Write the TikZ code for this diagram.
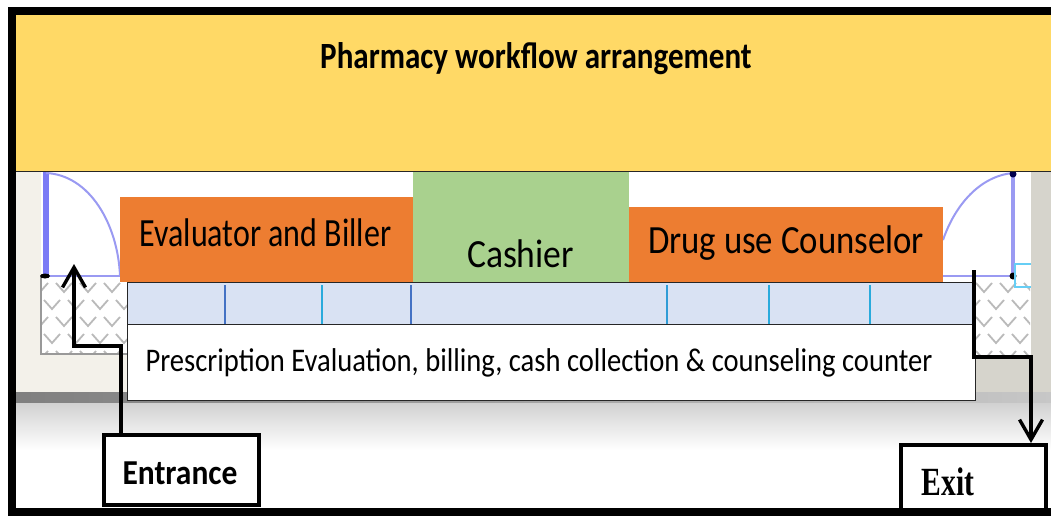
\documentclass[tikz,border=0pt]{standalone}
\usepackage{fontspec}
\usepackage{graphicx}
\setmainfont{Carlito}
\newfontfamily\exitfont{Liberation Serif}
\usetikzlibrary{arrows.meta}
\definecolor{bandyellow}{HTML}{FFD966}
\definecolor{deskorange}{HTML}{ED7D31}
\definecolor{deskgreen}{HTML}{A9D18E}
\definecolor{deskblue}{HTML}{D9E2F3}
\definecolor{tickblue}{HTML}{4472C4}
\definecolor{doorblue}{HTML}{9A9AF2}
\definecolor{wallbeige}{HTML}{F3F1EA}
\definecolor{wallgrey}{HTML}{D6D4CC}
\tikzset{
    desk/.style={rectangle, draw=none, fill=deskorange, anchor=north west, inner sep=0pt, text=black},
    counter/.style={rectangle, draw=black!85, line width=1.2pt, anchor=north west, inner sep=0pt},
    sign/.style={rectangle, draw=black, line width=3.6pt, fill=white, anchor=north west, inner sep=0pt},
    walk/.style={draw=black, line width=3.4pt, -{Straight Barb[length=20pt,width=23pt,line width=3.4pt]}},
    door/.style={draw=doorblue, line width=2pt},
    hatch/.style={draw=black!27, line width=1.8pt}
}
\begin{document}
\begin{tikzpicture}[x=1pt, y=-1pt]
    \useasboundingbox (0, 0) rectangle (1051, 515);
    \fill[white] (0, 0) rectangle (1051, 515);
    \fill[wallbeige] (16, 171) rectangle (127, 392);
    \fill[white] (41, 171) rectangle (127, 277);
    \fill[wallgrey] (975, 355) rectangle (1051, 392);
    \fill[wallgrey] (1031, 171) rectangle (1051, 392);
    \shade[left color=black!50, right color=black!22] (16, 392) rectangle (1051, 403);
    \shade[top color=black!18, bottom color=white] (16, 403) rectangle (1051, 450);
    \fill[white] (41, 277) rectangle (127, 354);
    \fill[white] (975, 277) rectangle (1030, 355);
    \begin{scope}
        \clip (41, 277) rectangle (127, 354);
        \foreach \x in {32, 56, 80, 104}
            \foreach \y in {283, 317, 351}
                \draw[hatch] (\x, \y) -- +(8, 9) -- +(16, 0)
                    (\x + 12, \y + 17) -- +(8, 9) -- +(16, 0);
    \end{scope}
    \begin{scope}
        \clip (975, 277) rectangle (1030, 355);
        \foreach \x in {976, 1000, 1024}
            \foreach \y in {283, 317, 351}
                \draw[hatch] (\x, \y) -- +(8, 9) -- +(16, 0)
                    (\x - 12, \y + 17) -- +(8, 9) -- +(16, 0);
    \end{scope}
    \draw[black!40, line width=1.5pt] (41, 277) -- (41, 354) -- (127, 354);
    \draw[doorblue!80!blue, line width=6pt] (46, 172) -- (46, 276);
    \draw[door] (46, 173) .. controls (90, 175) and (118, 225) .. (120, 276);
    \draw[door, line width=2.6pt] (46, 276) -- (120, 276);
    \draw[door, line width=4.5pt] (1013, 172) -- (1013, 276);
    \draw[door] (1013, 173) .. controls (980, 176) and (955, 205) .. (943, 240);
    \draw[door, line width=2.6pt] (943, 276) -- (1013, 276);
    \fill[black] (45, 276) ellipse (5 and 2.5);
    \fill[black] (1013, 276) circle (3.5);
    \fill[black!70!blue] (1013, 174) circle (3.5);
    \draw[cyan!60, line width=1.2pt] (1031, 264) -- (1015, 264) -- (1015, 287) -- (1031, 287);
    \node[rectangle, fill=bandyellow, draw=none, anchor=north west, inner sep=0pt,
        minimum width=1035pt, minimum height=157pt] (band) at (16, 14) {};
    \draw[black!85, line width=1.2pt] (band.south west) -- (band.south east);
    \node (title) at (536, 59) {\fontsize{37}{37}\selectfont\bfseries\scalebox{0.84}[1]{Pharmacy workflow arrangement}};
    \node[desk, minimum width=293pt, minimum height=85pt] (evaluator) at (120, 197) {};
    \node at (265.5, 233) {\fontsize{40}{40}\selectfont\scalebox{0.80}[1]{Evaluator and Biller}};
    \node[desk, fill=deskgreen, minimum width=216pt, minimum height=110pt] (cashier) at (413, 172) {};
    \node at (520.5, 254) {\fontsize{40}{40}\selectfont\scalebox{0.89}[1]{Cashier}};
    \node[desk, minimum width=314pt, minimum height=75pt] (counselor) at (629, 207) {};
    \node at (786, 243) {\fontsize{40}{40}\selectfont\scalebox{0.87}[1]{Drug use Counselor}};
    \node[counter, fill=deskblue, minimum width=848pt, minimum height=42pt] (slots) at (127, 282) {};
    \foreach \x/\tone in {225/tickblue, 322/tickblue!60!cyan, 411/tickblue, 667/tickblue!70!cyan, 769/tickblue!60!cyan, 870/tickblue!60!cyan}
        \draw[\tone, line width=2.6pt] (\x, 285) -- (\x, 324);
    \node[counter, fill=white, minimum width=848pt, minimum height=76pt] (counter) at (127, 324) {};
    \node at (539, 363) {\fontsize{33}{33}\selectfont\scalebox{0.866}[1]{Prescription Evaluation, billing, cash collection \& counseling counter}};
    \node[sign, minimum width=155pt, minimum height=70pt] (entrance) at (102, 433) {};
    \node at (180, 473) {\fontsize{35}{35}\selectfont\bfseries\scalebox{0.90}[1]{Entrance}};
    \node[sign, minimum width=145pt, minimum height=70pt] (exit) at (899, 443) {};
    \node at (948, 482) {\exitfont\fontsize{40}{40}\selectfont\bfseries\scalebox{0.74}[1]{Exit}};
    \coordinate (enterend) at (74, 264);
    \coordinate (exitstart) at (974, 270);
    \draw[walk] (121, 434) -- (121, 346) -- (74, 346) -- (enterend);
    \draw[walk] (exitstart) -- (974, 357) -- (1031, 357) -- (1031, 443);
    \draw[black, line width=8pt] (1051, 10.5) -- (12, 10.5) -- (12, 511.5) -- (1051, 511.5);
\end{tikzpicture}
\end{document}
